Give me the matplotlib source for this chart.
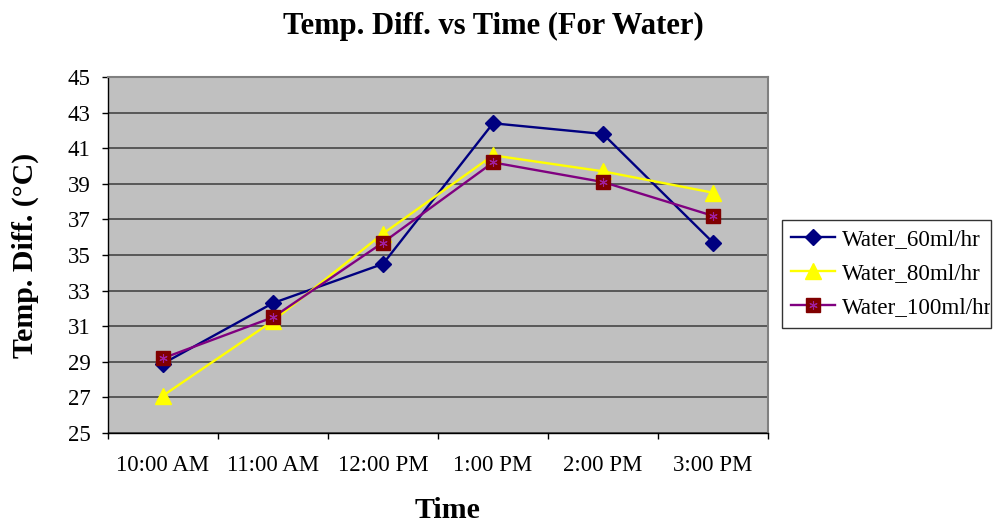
import matplotlib
matplotlib.use("Agg")
import matplotlib.pyplot as plt
from matplotlib.legend_handler import HandlerTuple
from matplotlib.transforms import Bbox, TransformedBbox

plt.rcParams["font.family"] = ["Liberation Serif", "DejaVu Serif"]

times = ["10:00 AM", "11:00 AM", "12:00 PM", "1:00 PM", "2:00 PM", "3:00 PM"]
water_60 = [28.9, 32.3, 34.5, 42.4, 41.8, 35.7]
water_80 = [27.1, 31.3, 36.2, 40.6, 39.7, 38.5]
water_100 = [29.2, 31.5, 35.7, 40.2, 39.1, 37.2]
y_ticks = list(range(25, 46, 2))

fig = plt.figure(figsize=(9.95, 5.24), dpi=100)
fig.patch.set_facecolor("white")
ax = fig.add_axes([108 / 995, 1 - 433 / 524, 660 / 995, 356 / 524])
ax.set_facecolor("#c0c0c0")

x = list(range(len(times)))
h60, = ax.plot(x, water_60, color="#000080", lw=1.7, marker="D",
               markersize=8.5, markerfacecolor="#000080", markeredgecolor="#000080",
               label="Water_60ml/hr", zorder=3)
h80, = ax.plot(x, water_80, color="#ffff00", lw=1.7, marker="^",
               markersize=12, markerfacecolor="#ffff00", markeredgecolor="#ffff00",
               label="Water_80ml/hr", zorder=3)
h100, = ax.plot(x, water_100, color="#800080", lw=1.7, marker="s",
                markersize=9.5, markerfacecolor="#800000", markeredgecolor="#800000",
                label="Water_100ml/hr", zorder=4)
h100s, = ax.plot(x, water_100, linestyle="none", marker=(6, 2, 0), markersize=6,
                 markeredgecolor="#a020a0", markeredgewidth=0.8, zorder=5)

ax.set_xlim(-0.5, len(times) - 0.5)
ax.set_ylim(25, 45)
ax.set_yticks(y_ticks)
ax.set_yticklabels([str(v) for v in y_ticks])

# category boundaries get the tick marks, category centres get the labels
ax.set_xticks([i - 0.5 for i in range(len(times) + 1)])
ax.set_xticklabels([])
ax.set_xticks(x, minor=True)
ax.set_xticklabels(times, minor=True)

ax.tick_params(axis="x", which="major", direction="out", length=4.5, width=1, color="black")
ax.tick_params(axis="x", which="minor", length=0, pad=16, labelsize=16.5)
ax.tick_params(axis="y", direction="out", length=4.5, width=1, pad=8, labelsize=16.5,
               color="black")

ax.yaxis.grid(True, color="#505050", lw=1.3)
ax.set_axisbelow(True)
for side in ("top", "right"):
    ax.spines[side].set_color("#808080")
    ax.spines[side].set_linewidth(1.5)
for side in ("left", "bottom"):
    ax.spines[side].set_color("black")
    ax.spines[side].set_linewidth(1)

fig.text(493 / 995, 1 - 26 / 524, "Temp. Diff. vs Time (For Water)", ha="center",
         va="center", fontsize=22, fontweight="bold")
fig.text(25 / 995, 1 - 255 / 524, "Temp. Diff. (°C)", ha="center", va="center",
         rotation=90, fontsize=21.5, fontweight="bold")
fig.text(448 / 995, 1 - 510 / 524, "Time", ha="center", va="center",
         fontsize=21.5, fontweight="bold")

# fixed-width legend box; labels that are too long get cut at its right edge
left = 782 / 995
right = 991 / 995
top = 1 - 220 / 524
leg = fig.legend([h60, h80, (h100, h100s)],
                 ["Water_60ml/hr", "Water_80ml/hr", "Water_100ml/hr"],
                 handler_map={tuple: HandlerTuple(ndivide=1)},
                 loc="upper left", bbox_to_anchor=(left, 0, right - left, top),
                 mode="expand",
                 fontsize=16.6, frameon=True, fancybox=False, edgecolor="black",
                 handlelength=1.9, handletextpad=0.3, labelspacing=0.56,
                 borderpad=0.4, borderaxespad=0)
leg.get_frame().set_linewidth(1)
clip = TransformedBbox(Bbox.from_extents(0, 0, right - 0.6 / 995, 1), fig.transFigure)
for t in leg.get_texts():
    t.set_clip_box(clip)
    t.set_clip_on(True)

fig.savefig("out.png", dpi=100)
